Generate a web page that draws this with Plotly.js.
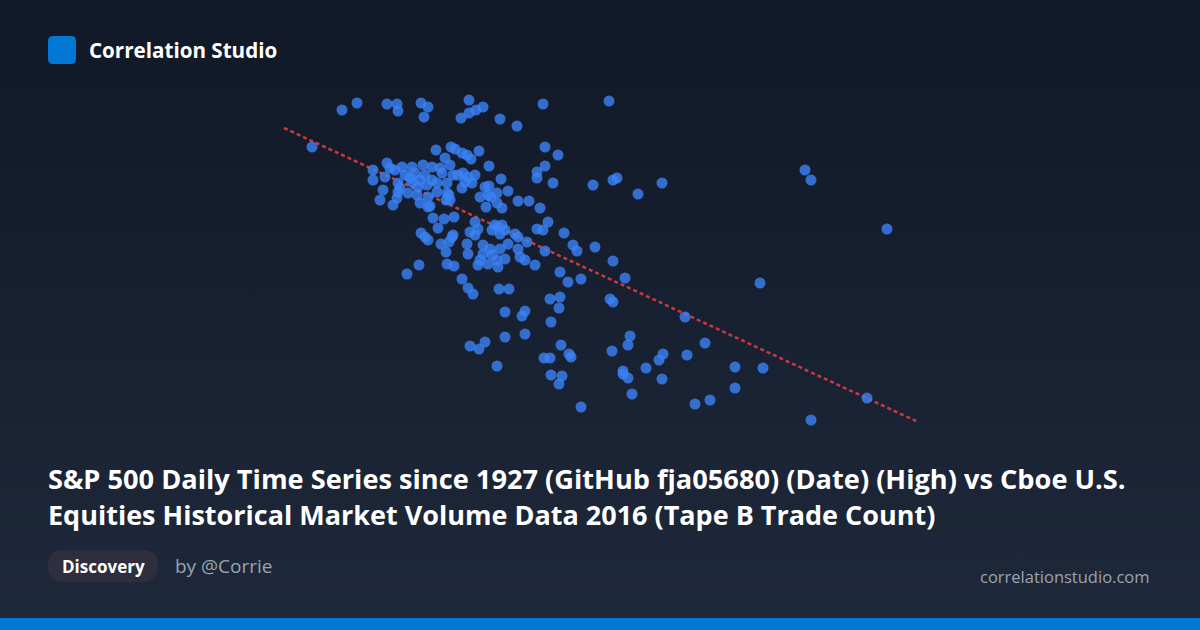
<!DOCTYPE html>
<html>
<head>
<meta charset="utf-8">
<script src="https://cdn.plot.ly/plotly-3.0.1.min.js"></script>
<style>
  html, body { margin:0; padding:0; width:1200px; height:630px; overflow:hidden; }
  body { background: linear-gradient(180deg, #111827 0%, #1e293b 100%); }
  #chart { width:1200px; height:630px; }
</style>
</head>
<body>
<div id="chart"></div>
<script>
// S&P 500 daily High (x) vs Cboe Tape B trade count in thousands (y), 2016
const spHigh = [
1841,1848.5,1863.5,1868.5,1869,1880.5,1884,1882,1904.5,1900.5,1904.5,1908,1911.5,1920,1928.5,1941.5,1974.5,1826,
1888,1895.5,1897.5,1892.5,1901,1903.5,1905.5,1909.5,1942.5,1949,1914.5,1942.5,1938.5,1938.5,1946.5,1966.5,1976.5,1978.5,1989,2001,2072.5,2075.5,2113.5,
1920.5,1914.5,1924,1918.5,1910,1915.5,1929,1934.5,1940,1913,1921,1918.5,
1856.5,1856.5,1863.5,1865,1862.5,1861.5,1860,1866.5,1868.5,1871,1876,1881.5,1886,1890,1895,1872.5,1877.5,1882.5,1886,1880,1876,1869,1869,1874,1878.5,1880,1884,1885,
1888.5,1888.5,1893.5,1893.5,1895,1891,1899,1901.5,1904,1907.5,1902.5,1906,1901,1912.5,1914,1884,1875,1883.5,1870,1896.5,1893,1894.5,1867.5,1879,
1886.5,1892,1897,1889,1880.5,1882.5,1884,1896.5,1894.5,1890.5,1893,1896,1879.5,1873.5,1893.5,1897,1901,1904,1906.5,
1907.5,1909,1905,1907.5,1903.5,1904,1917.5,1921,1922.5,1916,1920,1927.5,1929,1933.5,1938.5,1941.5,1944,1924,1911.5,1911.5,1916,1915,1920,1918.5,1922.5,1914,1919,
1929,1930,1932.5,1937.5,1942.5,1910,1909,1919,1952,1956.5,1958.5,1967.5,1976.5,1950,1954,1960.5,1982.5,2050,1919.5,1924.5,1945,1950,1949.5,1975,1976.5,2012.5,
1922.5,1932.5,1931,1945.5,1922.5,1932.5,1905,1909.5,1912.5,1918.5,1950.5,1954.5,1955.5,1942,1945,1945.5,1951,1949.5,1960.5,1976,1985,1984,1981.5,1981.5,1984,1986,
1993,2001.5,1999.5,2001,2013.5,2022.5,2017.5,2025,2037.5,2037.5,2051.5,2103.5,2075.5
];
const tapeBTrades = [
2950,2985,2980,2980,2945,2985,2965,2915,3000,2910,2935,2950,2965,2905,2870,2980,2995,2765,
2750,2765,2755,2710,2735,2725,2705,2745,2765,2725,2670,2670,2640,2610,2585,2575,2600,2610,2530,2585,2650,2600,2355,
2605,2570,2545,2535,2515,2515,2495,2495,2460,2465,2460,2485,
2650,2600,2685,2660,2615,2550,2500,2475,2510,2665,2665,2675,2665,2660,2675,2625,2635,2625,2600,2600,2590,2585,2540,2535,2525,2485,2515,2470,
2585,2540,2585,2535,2500,2635,2625,2635,2615,2625,2590,2585,2560,2565,2525,2465,2610,2575,2560,2625,2500,2525,2650,2565,
2410,2405,2415,2360,2335,2315,2300,2325,2290,2280,2240,2315,2175,2130,2180,2170,2105,2060,2030,
2390,2355,2340,2325,2280,2230,2375,2375,2350,2350,2330,2330,2315,2290,2355,2350,2390,2280,2275,2230,2225,2255,2255,2200,2205,2180,2165,
2255,2215,2200,2175,2245,2200,2175,2365,2335,2275,2245,2265,2195,2140,2090,2105,2110,2085,2055,2055,2005,2015,1960,2005,1990,1915,
1940,1945,1920,1890,1815,1830,1770,1755,1790,1670,1775,1730,1715,1710,1710,1625,1620,1580,1465,1745,1820,1775,1645,1630,1610,1530,
1660,1730,1700,1605,1725,1785,1480,1500,1665,1560,1660,1510,1400
];
// fitted trend line extent (x) and fit coefficients
const trendXRange = [1812, 2128];
const trendSlope = -4.636;
const trendAt1812 = 2860;

const titleLines = [
  "S&P 500 Daily Time Series since 1927 (GitHub fja05680) (Date) (High) vs Cboe U.S.",
  "Equities Historical Market Volume Data 2016 (Tape B Trade Count)"
];
const brandName = "Correlation Studio";
const badgeText = "Discovery";
const authorText = "by @Corrie";
const siteText = "correlationstudio.com";

const W = 1200, H = 630;
const px = v => v / W;
const py = v => 1 - v / H;
function roundRect(x0, y0, x1, y1, r) {
  const X = v => px(v).toFixed(5), Y = v => py(v).toFixed(5);
  return `M${X(x0+r)},${Y(y0)} L${X(x1-r)},${Y(y0)} Q${X(x1)},${Y(y0)} ${X(x1)},${Y(y0+r)} ` +
         `L${X(x1)},${Y(y1-r)} Q${X(x1)},${Y(y1)} ${X(x1-r)},${Y(y1)} L${X(x0+r)},${Y(y1)} ` +
         `Q${X(x0)},${Y(y1)} ${X(x0)},${Y(y1-r)} L${X(x0)},${Y(y0+r)} Q${X(x0)},${Y(y0)} ${X(x0+r)},${Y(y0)} Z`;
}

const trendY = trendXRange.map(x => trendAt1812 + trendSlope * (x - 1812));

const traces = [
  {
    type: 'scatter', mode: 'lines',
    x: trendXRange, y: trendY,
    line: { color: 'rgba(225,60,60,0.9)', width: 2.5, dash: '4px,3px' },
    hoverinfo: 'skip'
  },
  {
    type: 'scatter', mode: 'markers',
    x: spHigh, y: tapeBTrades,
    marker: { size: 11, color: '#3b82f6', opacity: 0.8, line: { width: 0 } }
  }
];

const FONT = '"Open Sans", "Noto Sans", sans-serif';
const layout = {
  width: W, height: H,
  margin: { l: 0, r: 0, t: 0, b: 0, pad: 0 },
  paper_bgcolor: 'rgba(0,0,0,0)',
  plot_bgcolor: 'rgba(0,0,0,0)',
  showlegend: false,
  xaxis: { range: [1670, 2270], visible: false, fixedrange: true },
  yaxis: { range: [350, 3500], visible: false, fixedrange: true },
  shapes: [
    { type: 'path', xref: 'paper', yref: 'paper', path: roundRect(48, 36, 76, 64, 5),
      fillcolor: '#0078d4', line: { width: 0 }, layer: 'below' },
    { type: 'path', xref: 'paper', yref: 'paper', path: roundRect(48, 550, 158, 582, 16),
      fillcolor: '#2e2e3e', line: { width: 0 }, layer: 'below' },
    { type: 'rect', xref: 'paper', yref: 'paper', x0: 0, x1: 1, y0: py(630), y1: py(618),
      fillcolor: '#0078d4', line: { width: 0 }, layer: 'below' }
  ],
  annotations: [
    { xref: 'paper', yref: 'paper', x: px(87), y: py(50), xanchor: 'left', yanchor: 'middle',
      text: '<b>' + brandName + '</b>', showarrow: false,
      font: { family: FONT, size: 20.6, color: '#ffffff' } },
    { xref: 'paper', yref: 'paper', x: px(46), y: py(478), xanchor: 'left', yanchor: 'middle',
      text: '<b>' + titleLines[0].replace(/&/g, '&amp;') + '</b>', showarrow: false,
      font: { family: FONT, size: 27.2, color: '#ffffff' } },
    { xref: 'paper', yref: 'paper', x: px(46), y: py(514), xanchor: 'left', yanchor: 'middle',
      text: '<b>' + titleLines[1] + '</b>', showarrow: false,
      font: { family: FONT, size: 27, color: '#ffffff' } },
    { xref: 'paper', yref: 'paper', x: px(103), y: py(566), xanchor: 'center', yanchor: 'middle',
      text: '<b>' + badgeText + '</b>', showarrow: false,
      font: { family: FONT, size: 17, color: '#ffffff' } },
    { xref: 'paper', yref: 'paper', x: px(173), y: py(566), xanchor: 'left', yanchor: 'middle',
      text: authorText, showarrow: false,
      font: { family: FONT, size: 19, color: '#9ca3af' } },
    { xref: 'paper', yref: 'paper', x: px(1152), y: py(576), xanchor: 'right', yanchor: 'middle',
      text: siteText, showarrow: false,
      font: { family: FONT, size: 16.5, color: '#9ca3af' } }
  ]
};

Plotly.newPlot('chart', traces, layout, { displayModeBar: false, staticPlot: true });
</script>
</body>
</html>
